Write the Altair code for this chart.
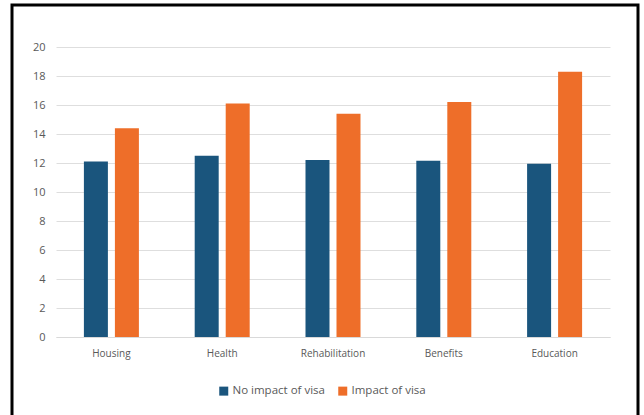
import altair as alt
import pandas as pd

categories = ["Housing", "Health", "Rehabilitation", "Benefits", "Education"]
no_impact = [12.1, 12.5, 12.2, 12.15, 11.95]
impact = [14.4, 16.1, 15.4, 16.2, 18.3]
series = ["No impact of visa", "Impact of visa"]
colors = ["#1a557d", "#ee6e29"]
y_ticks = list(range(0, 21, 2))

rows = []
for c, a, b in zip(categories, no_impact, impact):
    rows.append({"category": c, "series": series[0], "value": a})
    rows.append({"category": c, "series": series[1], "value": b})
df = pd.DataFrame(rows)

FONT = "Open Sans"
TXT = "#595959"

bars = alt.Chart(df).mark_bar().encode(
    x=alt.X(
        "category:N",
        sort=categories,
        title=None,
        scale=alt.Scale(paddingInner=0, paddingOuter=0),
        axis=alt.Axis(
            labelAngle=0, ticks=False, domainColor="#d9d9d9", domainWidth=1,
            labelPadding=11, labelFontSize=10, labelColor=TXT, labelFont=FONT,
        ),
    ),
    xOffset=alt.XOffset(
        "series:N", sort=series,
        scale=alt.Scale(paddingInner=0.226, paddingOuter=0.9),
    ),
    y=alt.Y(
        "value:Q",
        title=None,
        scale=alt.Scale(domain=[0, 20], nice=False),
        axis=alt.Axis(
            values=y_ticks, domain=False, ticks=False, gridColor="#dedede",
            gridWidth=1, labelPadding=11, labelFontSize=11, labelColor=TXT,
            labelFont=FONT,
        ),
    ),
    color=alt.Color(
        "series:N",
        sort=series,
        scale=alt.Scale(domain=series, range=colors),
        legend=alt.Legend(
            title=None, orient="none", direction="horizontal",
            legendX=162, legendY=338, symbolType="square", symbolSize=81,
            symbolStrokeWidth=0, labelFontSize=11.5, labelColor=TXT,
            labelFont=FONT, columnPadding=12, labelOffset=3,
        ),
    ),
)

# outer frame around the whole figure
frame = alt.Chart(pd.DataFrame({"k": [0]})).mark_rect(
    fill=None, stroke="black", strokeWidth=3
).encode(
    x=alt.value(-44), x2=alt.value(582), y=alt.value(-42), y2=alt.value(400)
)

chart = alt.layer(bars, frame).properties(
    width=554,
    height=290,
    autosize=alt.AutoSizeParams(type="none"),
    padding={"left": 56, "top": 47, "right": 34, "bottom": 78},
    background="white",
).configure_view(stroke=None)

chart.save("out.html", embed_options={"renderer": "svg", "actions": False})
